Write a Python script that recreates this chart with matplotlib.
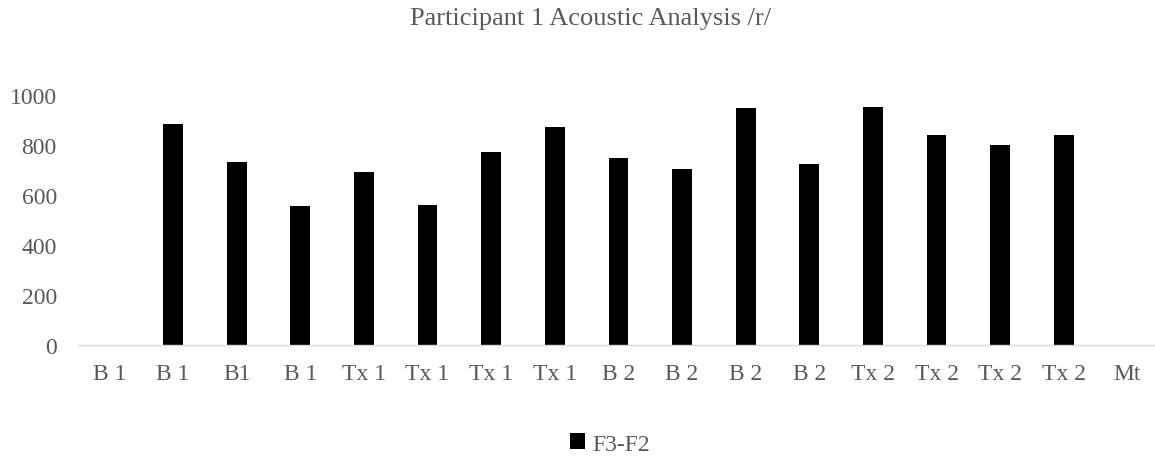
import matplotlib
matplotlib.use("Agg")
import matplotlib.pyplot as plt
import numpy as np

categories = ["B 1", "B 1", "B1", "B 1", "Tx 1", "Tx 1", "Tx 1", "Tx 1",
              "B 2", "B 2", "B 2", "B 2", "Tx 2", "Tx 2", "Tx 2", "Tx 2", "Mt"]
f3_f2 = [0, 885, 731, 557, 691, 560, 771, 871,
         747, 704, 948, 723, 955, 841, 801, 841, 0]
y_ticks = [0, 200, 400, 600, 800, 1000]
title = "Participant 1 Acoustic Analysis /r/"
series_name = "F3-F2"

plt.rcParams['font.family'] = ['Liberation Serif', 'DejaVu Serif']
text_color = "#595959"

W, H = 1155, 460
fig = plt.figure(figsize=(W / 100, H / 100), dpi=100)

# axes placement in pixels
left_px, right_px = 77.6, 1159.2
bottom_px, top_px = 345.7, 96.3
ax = fig.add_axes([left_px / W, 1 - bottom_px / H,
                   (right_px - left_px) / W, (bottom_px - top_px) / H])

x = np.arange(len(categories))
bars = ax.bar(x, f3_f2, width=0.31, color="black", label=series_name, zorder=3)

ax.set_xlim(-0.5, len(categories) - 0.5)
ax.set_ylim(0, 1000)
ax.set_yticks(y_ticks)
ax.set_yticklabels([str(v) for v in y_ticks])
ax.set_xticks(x)
ax.set_xticklabels(categories)

for s in ["top", "right", "left"]:
    ax.spines[s].set_visible(False)
ax.spines["bottom"].set_color("#D9D9D9")
ax.spines["bottom"].set_linewidth(1.0)
ax.spines["bottom"].set_zorder(4)

ax.tick_params(axis="y", length=0, pad=15, labelsize=17, labelcolor=text_color)
ax.tick_params(axis="x", length=0, pad=13, labelsize=17, labelcolor=text_color)

fig.text(591 / W, 1 - 25 / H, title, ha="center", va="baseline",
         fontsize=19, color=text_color)

fig.legend(handles=[bars], labels=[series_name], loc="center",
           bbox_to_anchor=(610 / W, 1 - 445 / H), frameon=False,
           handlelength=0.65, handleheight=0.65, handletextpad=0.3,
           fontsize=17, labelcolor=text_color)

fig.savefig("out.png", dpi=100)
